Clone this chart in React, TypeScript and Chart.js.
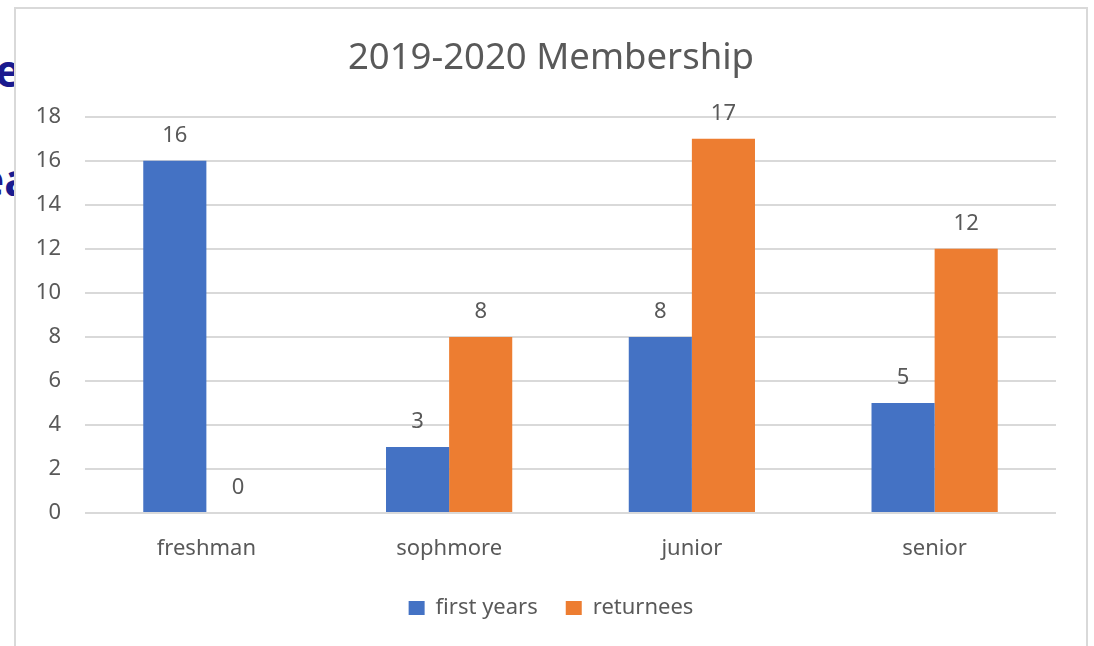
import React, { useEffect, useRef } from "react";
import { Chart, registerables } from "chart.js";

Chart.register(...registerables);

const categories = ["freshman", "sophmore", "junior", "senior"];
const firstYears = [16, 3, 8, 5];
const returnees = [0, 8, 17, 12];
const seriesNames = ["first years", "returnees"];
const yTicks = { min: 0, max: 18, step: 2 };
const titleText = "2019-2020 Membership";

const FONT = "'Noto Sans', 'DejaVu Sans', sans-serif";
const GRAY = "#595959";

const dataLabelPlugin = {
  id: "dataLabels",
  afterDatasetsDraw(chart: any) {
    const ctx = chart.ctx;
    ctx.save();
    ctx.font = `22px ${FONT}`;
    ctx.fillStyle = GRAY;
    ctx.textAlign = "center";
    ctx.textBaseline = "alphabetic";
    chart.data.datasets.forEach((ds: any, i: number) => {
      const meta = chart.getDatasetMeta(i);
      meta.data.forEach((el: any, j: number) => {
        ctx.fillText(String(ds.data[j]), el.x, el.y - 19);
      });
    });
    ctx.restore();
  },
};

export default function App() {
  const ref = useRef<HTMLCanvasElement>(null);

  useEffect(() => {
    if (!ref.current) return;
    const chart = new Chart(ref.current, {
      type: "bar",
      data: {
        labels: categories,
        datasets: [
          {
            label: seriesNames[0],
            data: firstYears,
            backgroundColor: "#4472C4",
            categoryPercentage: 0.52,
            barPercentage: 1.0,
          },
          {
            label: seriesNames[1],
            data: returnees,
            backgroundColor: "#ED7D31",
            categoryPercentage: 0.52,
            barPercentage: 1.0,
          },
        ],
      },
      options: {
        responsive: false,
        animation: false,
        devicePixelRatio: 1,
        layout: { padding: { left: 46, right: 38, top: 9, bottom: 17 } },
        plugins: {
          tooltip: { enabled: false },
          title: {
            display: true,
            text: titleText,
            color: GRAY,
            font: { family: FONT, size: 36.5, weight: "normal" },
            padding: { top: 28, bottom: 36 },
          },
          legend: {
            position: "bottom",
            labels: {
              boxWidth: 16,
              boxHeight: 14,
              color: GRAY,
              font: { family: FONT, size: 22 },
              padding: 28,
            },
          },
        },
        scales: {
          x: {
            grid: { display: false, drawTicks: false },
            border: { display: false },
            ticks: {
              color: GRAY,
              font: { family: FONT, size: 22 },
              padding: 23,
            },
            afterFit: (s: any) => {
              s.height = 56;
            },
          },
          y: {
            min: yTicks.min,
            max: yTicks.max,
            grid: { color: "#d9d9d9", lineWidth: 2, drawTicks: false },
            border: { display: false },
            ticks: {
              stepSize: yTicks.step,
              color: GRAY,
              font: { family: FONT, size: 22 },
              padding: 24,
            },
            afterFit: (s: any) => {
              s.width = 39;
              // labels reach past the narrow axis box; do not clip them
              s._computeLabelArea = () => undefined;
            },
          },
        },
      },
      plugins: [dataLabelPlugin],
    });
    return () => chart.destroy();
  }, []);

  const navy = {
    position: "absolute" as const,
    fontFamily: FONT,
    fontWeight: "bold" as const,
    fontSize: 44,
    lineHeight: "44px",
    color: "#1a1a8f",
    whiteSpace: "pre" as const,
  };

  return (
    <div
      style={{
        position: "fixed",
        left: 0,
        top: 0,
        width: 1094,
        height: 646,
        overflow: "hidden",
        background: "#ffffff",
      }}
    >
      <div style={{ ...navy, left: -5, top: 48 }}>e</div>
      <div style={{ ...navy, left: -22, top: 157 }}>ea</div>
      <div
        style={{
          position: "absolute",
          left: 14,
          top: 7,
          width: 1070,
          height: 700,
          border: "2px solid #d9d9d9",
          background: "#ffffff",
        }}
      />
      <canvas
        ref={ref}
        width={1094}
        height={646}
        style={{ position: "absolute", left: 0, top: 0, width: 1094, height: 646 }}
      />
    </div>
  );
}
